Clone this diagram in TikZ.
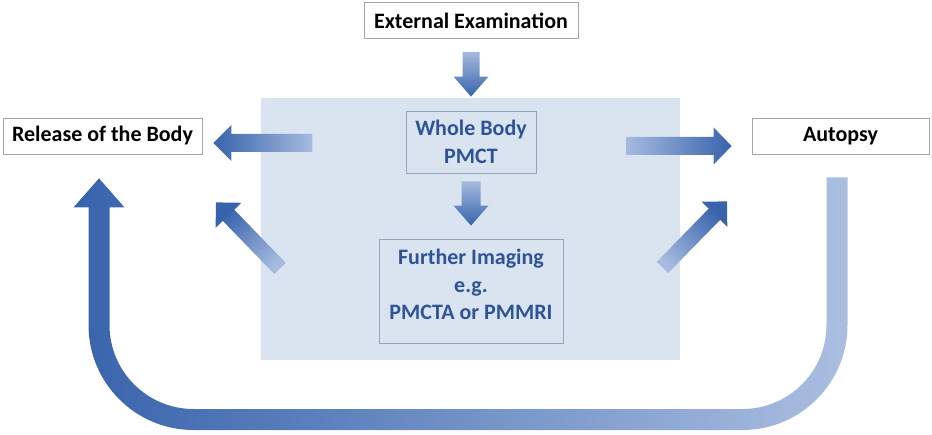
\documentclass[tikz,border=0pt]{standalone}
\usepackage{fontspec}
\setmainfont{Carlito}
\usepackage{tikz}
\usetikzlibrary{calc,positioning}

\definecolor{arrowdark}{RGB}{56,99,172}
\definecolor{arrowlight}{RGB}{165,186,222}
\definecolor{looplight}{RGB}{170,190,224}
\definecolor{rectfill}{RGB}{218,227,240}
\definecolor{ctblue}{RGB}{46,84,150}
\definecolor{boxgray}{RGB}{165,165,165}
\definecolor{ctborder}{RGB}{150,165,190}

\tikzset{
  plainbox/.style={draw=boxgray, fill=white, line width=0.8pt, minimum height=36pt,
    inner sep=0pt, font=\bfseries\fontsize{22}{26}\selectfont},
  ctbox/.style={draw=ctborder, line width=0.8pt, text=ctblue, align=center,
    inner sep=0pt, font=\bfseries\fontsize{22}{27.5}\selectfont},
  arrowfill/.style={top color=arrowdark, bottom color=arrowlight},
}

% block arrow: tail, tip, half shaft, half head, head length, shading angle
\newcommand{\blockarrow}[6]{%
  \coordinate (hb) at ($(#2)!#5!(#1)$);
  \shade[arrowfill, shading angle=#6]
    ($(#1)!#3!90:(#2)$) -- ($(hb)!#3!90:(#2)$) -- ($(hb)!#4!90:(#2)$) -- (#2)
    -- ($(hb)!#4!-90:(#2)$) -- ($(hb)!#3!-90:(#2)$) -- ($(#1)!#3!-90:(#2)$) -- cycle;
}

\begin{document}
\begin{tikzpicture}[x=1pt,y=1pt]
  \useasboundingbox (0,0) rectangle (932,434);

  % imaging area
  \node[fill=rectfill, minimum width=419pt, minimum height=262pt, inner sep=0pt] (ctarea) at (470.5,205) {};

  % boxes
  \node[plainbox, minimum width=214pt] (ext) at (471,413.5) {External Examination};
  \node[plainbox, minimum width=199pt] (release) at (102.5,298) {Release of the Body};
  \node[plainbox, minimum width=177pt] (autopsy) at (840.5,298) {Autopsy};
  \node[ctbox, minimum width=130pt, minimum height=62pt] (pmct) at (471,292) {Whole Body\\PMCT};
  \node[ctbox, minimum width=184pt, minimum height=104pt, text depth=13pt] (further) at (471,143) {Further Imaging\\e.g.\\PMCTA or PMMRI};

  % arrow ends
  \coordinate (extout) at ($(ext.south)+(0,-13)$);
  \coordinate (pmctin) at ($(pmct.north)+(0,14)$);
  \coordinate (pmctout) at ($(pmct.south)+(0,-8)$);
  \coordinate (furtherin) at ($(further.north)+(0,13)$);
  \coordinate (relin) at ($(release.east)+(11,-7)$);
  \coordinate (relfrom) at ($(release.east)+(110,-7)$);
  \coordinate (autin) at ($(autopsy.west)+(-20,-10)$);
  \coordinate (autfrom) at ($(autopsy.west)+(-125,-10)$);
  \coordinate (reldiag) at ($(release.south)+(113.5,-48)$);
  \coordinate (diagL) at ($(release.south)+(177.5,-114)$);
  \coordinate (autdiag) at ($(autopsy.south)+(-113.5,-47)$);
  \coordinate (diagR) at ($(autopsy.south)+(-178,-113)$);
  \coordinate (loopL) at ($(release.south)+(-3.5,-24)$);
  \coordinate (loopR) at ($(autopsy.south)+(-3.5,-23)$);

  % block arrows
  \blockarrow{extout}{pmctin}{8.5pt}{17.5pt}{20pt}{180}
  \blockarrow{pmctout}{furtherin}{9.5pt}{17.5pt}{20pt}{180}
  \blockarrow{relfrom}{relin}{9pt}{18pt}{18pt}{90}
  \blockarrow{autfrom}{autin}{9pt}{18.5pt}{18pt}{-90}
  \blockarrow{diagL}{reldiag}{8pt}{18pt}{18pt}{45}
  \blockarrow{diagR}{autdiag}{8pt}{18pt}{18pt}{-45}

  % loop back from autopsy to release
  \shade[left color=arrowdark, right color=looplight]
    let \p1=(loopL), \p2=(loopR) in
    (\x1,\y1) -- (\x1+25.5,\y1-29) -- (\x1+10.5,\y1-29) -- (\x1+10.5,109)
    arc[start angle=180, end angle=270, radius=84]
    -- (\x2-94.5,25) arc[start angle=270, end angle=360, radius=84]
    -- (\x2-10.5,\y2) -- (\x2+10.5,\y2) -- (\x2+10.5,109)
    arc[start angle=0, end angle=-90, radius=105]
    -- (\x1+94.5,4) arc[start angle=270, end angle=180, radius=105]
    -- (\x1-10.5,\y1-29) -- (\x1-25.5,\y1-29) -- cycle;

\end{tikzpicture}
\end{document}
